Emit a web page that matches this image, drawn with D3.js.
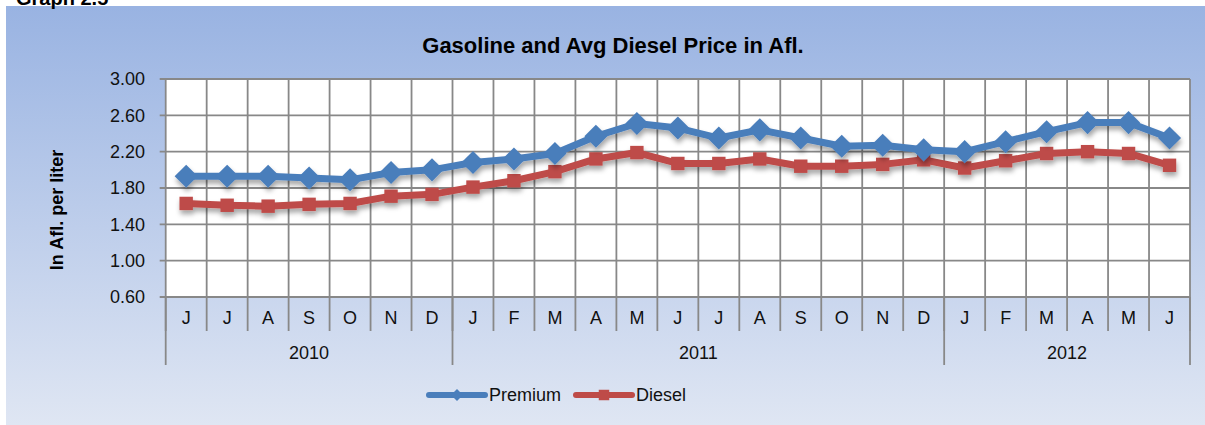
<!DOCTYPE html>
<html><head><meta charset="utf-8">
<script src="https://cdn.jsdelivr.net/npm/d3@7"></script>
<style>body{margin:0;background:#fff}svg{display:block;font-family:"Liberation Sans",Arial,sans-serif}</style>
</head><body>
<script>
const months = ["J","J","A","S","O","N","D","J","F","M","A","M","J","J","A","S","O","N","D","J","F","M","A","M","J"];
const years = [{label:"2010", start:0, end:7},{label:"2011", start:7, end:19},{label:"2012", start:19, end:25}];
const premium = [1.93,1.93,1.93,1.91,1.89,1.97,2.00,2.08,2.12,2.18,2.37,2.51,2.46,2.35,2.44,2.35,2.26,2.27,2.22,2.20,2.31,2.42,2.52,2.52,2.35];
const diesel  = [1.63,1.61,1.60,1.62,1.63,1.71,1.73,1.81,1.88,1.98,2.12,2.19,2.07,2.07,2.12,2.04,2.04,2.06,2.11,2.02,2.10,2.18,2.20,2.18,2.05];
const yTicks = [0.60,1.00,1.40,1.80,2.20,2.60,3.00];

const W=1205,H=425;
const svg=d3.select("body").append("svg").attr("width",W).attr("height",H);
const defs=svg.append("defs");
const g=defs.append("linearGradient").attr("id","bg").attr("x1",0).attr("y1",0).attr("x2",0).attr("y2",1);
g.append("stop").attr("offset","0%").attr("stop-color","#99b3e2");
g.append("stop").attr("offset","100%").attr("stop-color","#dfe6f3");
const f=defs.append("filter").attr("id","sh").attr("x","-20%").attr("y","-20%").attr("width","140%").attr("height","160%");
f.append("feDropShadow").attr("dx",1).attr("dy",4).attr("stdDeviation",2.5).attr("flood-color","#000").attr("flood-opacity",0.35);

svg.append("rect").attr("x",6).attr("y",6).attr("width",W-6).attr("height",H-6).attr("fill","url(#bg)");
svg.append("text").attr("x",16).attr("y",5).attr("font-size",20).attr("font-weight","bold").text("Graph 2.5");

const L=165.7,R=1190,T=79,B=297;
const x=d3.scaleBand().domain(d3.range(months.length)).range([L,R]);
const y=d3.scaleLinear().domain([0.6,3.0]).range([B,T]);

svg.append("rect").attr("x",L).attr("y",T).attr("width",R-L).attr("height",B-T).attr("fill","#fff");

const gridC="#888888";
svg.append("g").selectAll("line").data(yTicks).join("line")
  .attr("x1",L-6).attr("x2",R).attr("y1",d=>y(d)).attr("y2",d=>y(d)).attr("stroke",gridC).attr("stroke-width",1.8);
const bounds=d3.range(months.length+1).map(i=> i<months.length? x(i) : R);
svg.append("g").selectAll("line").data(bounds).join("line")
  .attr("x1",d=>d).attr("x2",d=>d).attr("y1",T).attr("y2",331).attr("stroke",gridC).attr("stroke-width",1.8);
const yb=[0,7,19,25].map(i=> i<months.length? x(i) : R);
svg.append("g").selectAll("line").data(yb).join("line")
  .attr("x1",d=>d).attr("x2",d=>d).attr("y1",297).attr("y2",365).attr("stroke",gridC).attr("stroke-width",1.8);

const fs=18;
svg.append("g").selectAll("text").data(yTicks).join("text")
  .attr("x",145).attr("y",d=>y(d)).attr("dy","0.35em").attr("text-anchor","end").attr("font-size",fs).attr("fill","#111")
  .text(d3.format(".2f"));
svg.append("g").selectAll("text").data(months).join("text")
  .attr("x",(d,i)=>x(i)+x.bandwidth()/2).attr("y",318).attr("dy","0.35em").attr("text-anchor","middle").attr("font-size",fs).attr("fill","#111")
  .text(d=>d);
svg.append("g").selectAll("text").data(years).join("text")
  .attr("x",d=>(x(d.start)+(d.end<months.length?x(d.end):R))/2).attr("y",353).attr("dy","0.35em").attr("text-anchor","middle").attr("font-size",fs).attr("fill","#111")
  .text(d=>d.label);

svg.append("text").attr("x",613).attr("y",45).attr("dy","0.35em").attr("text-anchor","middle").attr("font-size",22).attr("font-weight","bold").text("Gasoline and Avg Diesel Price in Afl.");
svg.append("text").attr("transform","translate(57,210) rotate(-90)").attr("dy","0.35em").attr("text-anchor","middle").attr("font-size",18).attr("font-weight","bold").text("In Afl. per liter");

const blue="#4a7ebb", red="#be4b48";
const line=d3.line().x((d,i)=>x(i)+x.bandwidth()/2).y(d=>y(d));
function series(data,color,sym,size){
  const gg=svg.append("g").attr("filter","url(#sh)");
  gg.append("path").datum(data).attr("d",line).attr("fill","none").attr("stroke",color).attr("stroke-width",7).attr("stroke-linejoin","round");
  gg.selectAll("path.m").data(data).join("path").attr("class","m")
    .attr("transform",(d,i)=>`translate(${x(i)+x.bandwidth()/2},${y(d)})`)
    .attr("d",d3.symbol().type(sym).size(size)).attr("fill",color);
}
series(diesel,red,d3.symbolSquare,180);
series(premium,blue,d3.symbolDiamond2,340);

function leg(x0,color,sym,size,label){
  svg.append("line").attr("x1",x0).attr("x2",x0+56).attr("y1",395).attr("y2",395).attr("stroke",color).attr("stroke-width",6).attr("stroke-linecap","round");
  svg.append("path").attr("transform",`translate(${x0+28},395)`).attr("d",d3.symbol().type(sym).size(size)).attr("fill",color);
  svg.append("text").attr("x",x0+60).attr("y",395).attr("dy","0.35em").attr("font-size",18).attr("fill","#111").text(label);
}
leg(429,blue,d3.symbolDiamond2,90,"Premium");
leg(576,red,d3.symbolSquare,110,"Diesel");
</script>
</body></html>
